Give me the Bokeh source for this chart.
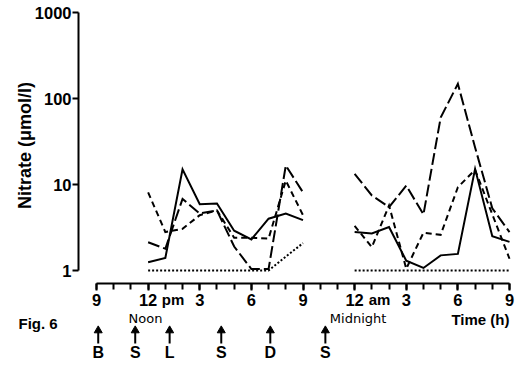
from bokeh.plotting import figure
from bokeh.models import (Range1d, LogScale, LinearScale, LinearAxis, LogAxis,
                          FixedTicker, PrintfTickFormatter)
from bokeh.embed import file_html
from bokeh.resources import INLINE
from bokeh.core.properties import value
import math

# ---------------- data (hours after 9 am) ----------------
hours_day = [3, 4, 5, 6, 7, 8, 9, 10, 11, 12]            # 12 pm ... 9 pm
hours_night = [15, 16, 17, 18, 19, 20, 21, 22, 23, 24]   # 12 am ... 9 am

solid_day = [1.25, 1.4, 15.0, 5.9, 6.0, 2.9, 2.3, 4.0, 4.6, 3.85]
solid_night = [2.8, 2.7, 3.2, 1.3, 1.07, 1.5, 1.56, 15.2, 2.5, 2.15]

short_day = [8.1, 2.8, 3.05, 4.4, 5.0, 2.4, 2.4, 2.35, 11.1, 4.4]
short_night = [3.3, 1.87, 5.7, 1.05, 2.75, 2.6, 9.3, 14.8, 4.5, 1.37]

long_day = [2.13, 1.79, 6.8, 4.6, 5.0, 1.9, 1.04, 1.04, 16.6, 8.1]
long_night = [13.3, 7.45, 5.45, 9.7, 4.48, 60.0, 148.0, 27.0, 5.3, 2.8]

dotted_day = [1, 1, 1, 1, 1, 1, 1, 1, 1.45, 2.08]
dotted_night = [1, 1, 1, 1, 1, 1, 1, 1, 1, 1]

x_tick_pos = [0, 3, 6, 9, 12, 15, 18, 21, 24]
x_tick_labels = ["9", "12", "3", "6", "9", "12", "3", "6", "9"]
y_ticks = [1, 10, 100, 1000]

event_hours = [0.1, 2.25, 4.25, 7.25, 10.1, 13.3]
event_labels = ["B", "S", "L", "S", "D", "S"]

# ---------------- layout constants (picture pixels) ----------------
W, H = 522, 366
OFF = 0
X_AT_0 = 96.0
PX_PER_H = (509.0 - 96.0) / 24.0
Y_AT_1 = 270.0
PX_PER_DEC = 86.0


def h_at(px):
    return (px - X_AT_0) / PX_PER_H


def v_at(py):
    return 10 ** ((Y_AT_1 - py) / PX_PER_DEC)


FONT = "Liberation Sans"
SMALL_FONT = "DejaVu Sans"

p = figure(width=W, height=H,
           x_range=Range1d(h_at(OFF), h_at(OFF + W)),
           y_range=Range1d(v_at(OFF + H), v_at(OFF)),
           x_axis_type=None, y_axis_type=None,
           toolbar_location=None, output_backend="svg",
           min_border=0, title=None)
p.y_scale = LogScale()
p.outline_line_color = None
p.background_fill_color = "white"
p.border_fill_color = "white"
p.extra_x_ranges = {"px": Range1d(OFF, OFF + W)}
p.extra_x_scales = {"px": LinearScale()}
p.extra_y_ranges = {"py": Range1d(OFF + H, OFF)}
p.extra_y_scales = {"py": LinearScale()}

# ---------------- axes ----------------
yaxis = LogAxis(fixed_location=h_at(78), bounds=(1, 1000),
                ticker=FixedTicker(ticks=y_ticks, minor_ticks=[]),
                formatter=PrintfTickFormatter(format="%d"),
                axis_line_width=2, axis_line_color="black",
                major_tick_out=6, major_tick_in=0, major_tick_line_width=2,
                minor_tick_out=0, minor_tick_in=0,
                major_label_standoff=1,
                major_label_text_font=FONT,
                major_label_text_font_size="16.5px",
                major_label_text_font_style="bold",
                major_label_text_color="black")
p.add_layout(yaxis, "left")

xaxis = LinearAxis(fixed_location=v_at(283), bounds=(0, 24),
                   ticker=FixedTicker(ticks=x_tick_pos, minor_ticks=list(range(25))),
                   major_label_overrides={k: v for k, v in zip(x_tick_pos, x_tick_labels)},
                   axis_line_width=2, axis_line_color="black",
                   major_tick_out=7, major_tick_in=0, major_tick_line_width=2,
                   minor_tick_out=6, minor_tick_in=0, minor_tick_line_width=2,
                   minor_tick_line_color="black",
                   major_label_standoff=3,
                   major_label_text_font=FONT,
                   major_label_text_font_size="16.5px",
                   major_label_text_font_style="bold",
                   major_label_text_color="black")
p.add_layout(xaxis, "below")

# ---------------- series ----------------
styles = [
    (solid_day, solid_night, "solid"),
    (short_day, short_night, "6 4"),
    (long_day, long_night, "12 4"),
    (dotted_day, dotted_night, "2 2"),
]
for day, night, dash in styles:
    for xs, ys in ((hours_day, day), (hours_night, night)):
        p.line(xs, ys, line_color="black", line_width=2, line_dash=dash,
               line_join="miter")

# ---------------- texts (page-pixel positions) ----------------
p.text(x=[24], y=[140], text=["Nitrate   (μmol/l)"],
       x_range_name="px", y_range_name="py", angle=math.pi / 2,
       text_font=value(FONT), text_font_size="18px", text_font_style="bold",
       text_align="center", text_baseline="middle", text_color="black")

p.text(x=[4.45, 16.45], y=[299, 299], text=["pm", "am"], y_range_name="py",
       text_font=value(FONT), text_font_size="15px", text_font_style="bold",
       text_align="center", text_baseline="middle", text_color="black")

p.text(x=[2.85, 15.2], y=[318, 318], text=["Noon", "Midnight"], y_range_name="py",
       text_font=value(SMALL_FONT), text_font_size="13px",
       text_align="center", text_baseline="middle", text_color="black")

p.text(x=[24.0], y=[319], text=["Time (h)"], y_range_name="py",
       text_font=value(FONT), text_font_size="15px", text_font_style="bold",
       text_align="right", text_baseline="middle", text_color="black")

p.text(x=[18], y=[323], text=["Fig. 6"], x_range_name="px", y_range_name="py",
       text_font=value(FONT), text_font_size="15px", text_font_style="bold",
       text_align="left", text_baseline="middle", text_color="black")

n = len(event_hours)
p.segment(x0=event_hours, y0=[343] * n, x1=event_hours, y1=[331] * n,
          y_range_name="py", line_color="black", line_width=2)
p.scatter(x=event_hours, y=[330] * n, marker="triangle", size=8,
          y_range_name="py", fill_color="black", line_color="black")
p.text(x=event_hours, y=[352] * n, text=event_labels, y_range_name="py",
       text_font=value(FONT), text_font_size="16px", text_font_style="bold",
       text_align="center", text_baseline="middle", text_color="black")

open("out.html", "w").write(file_html(p, INLINE))
